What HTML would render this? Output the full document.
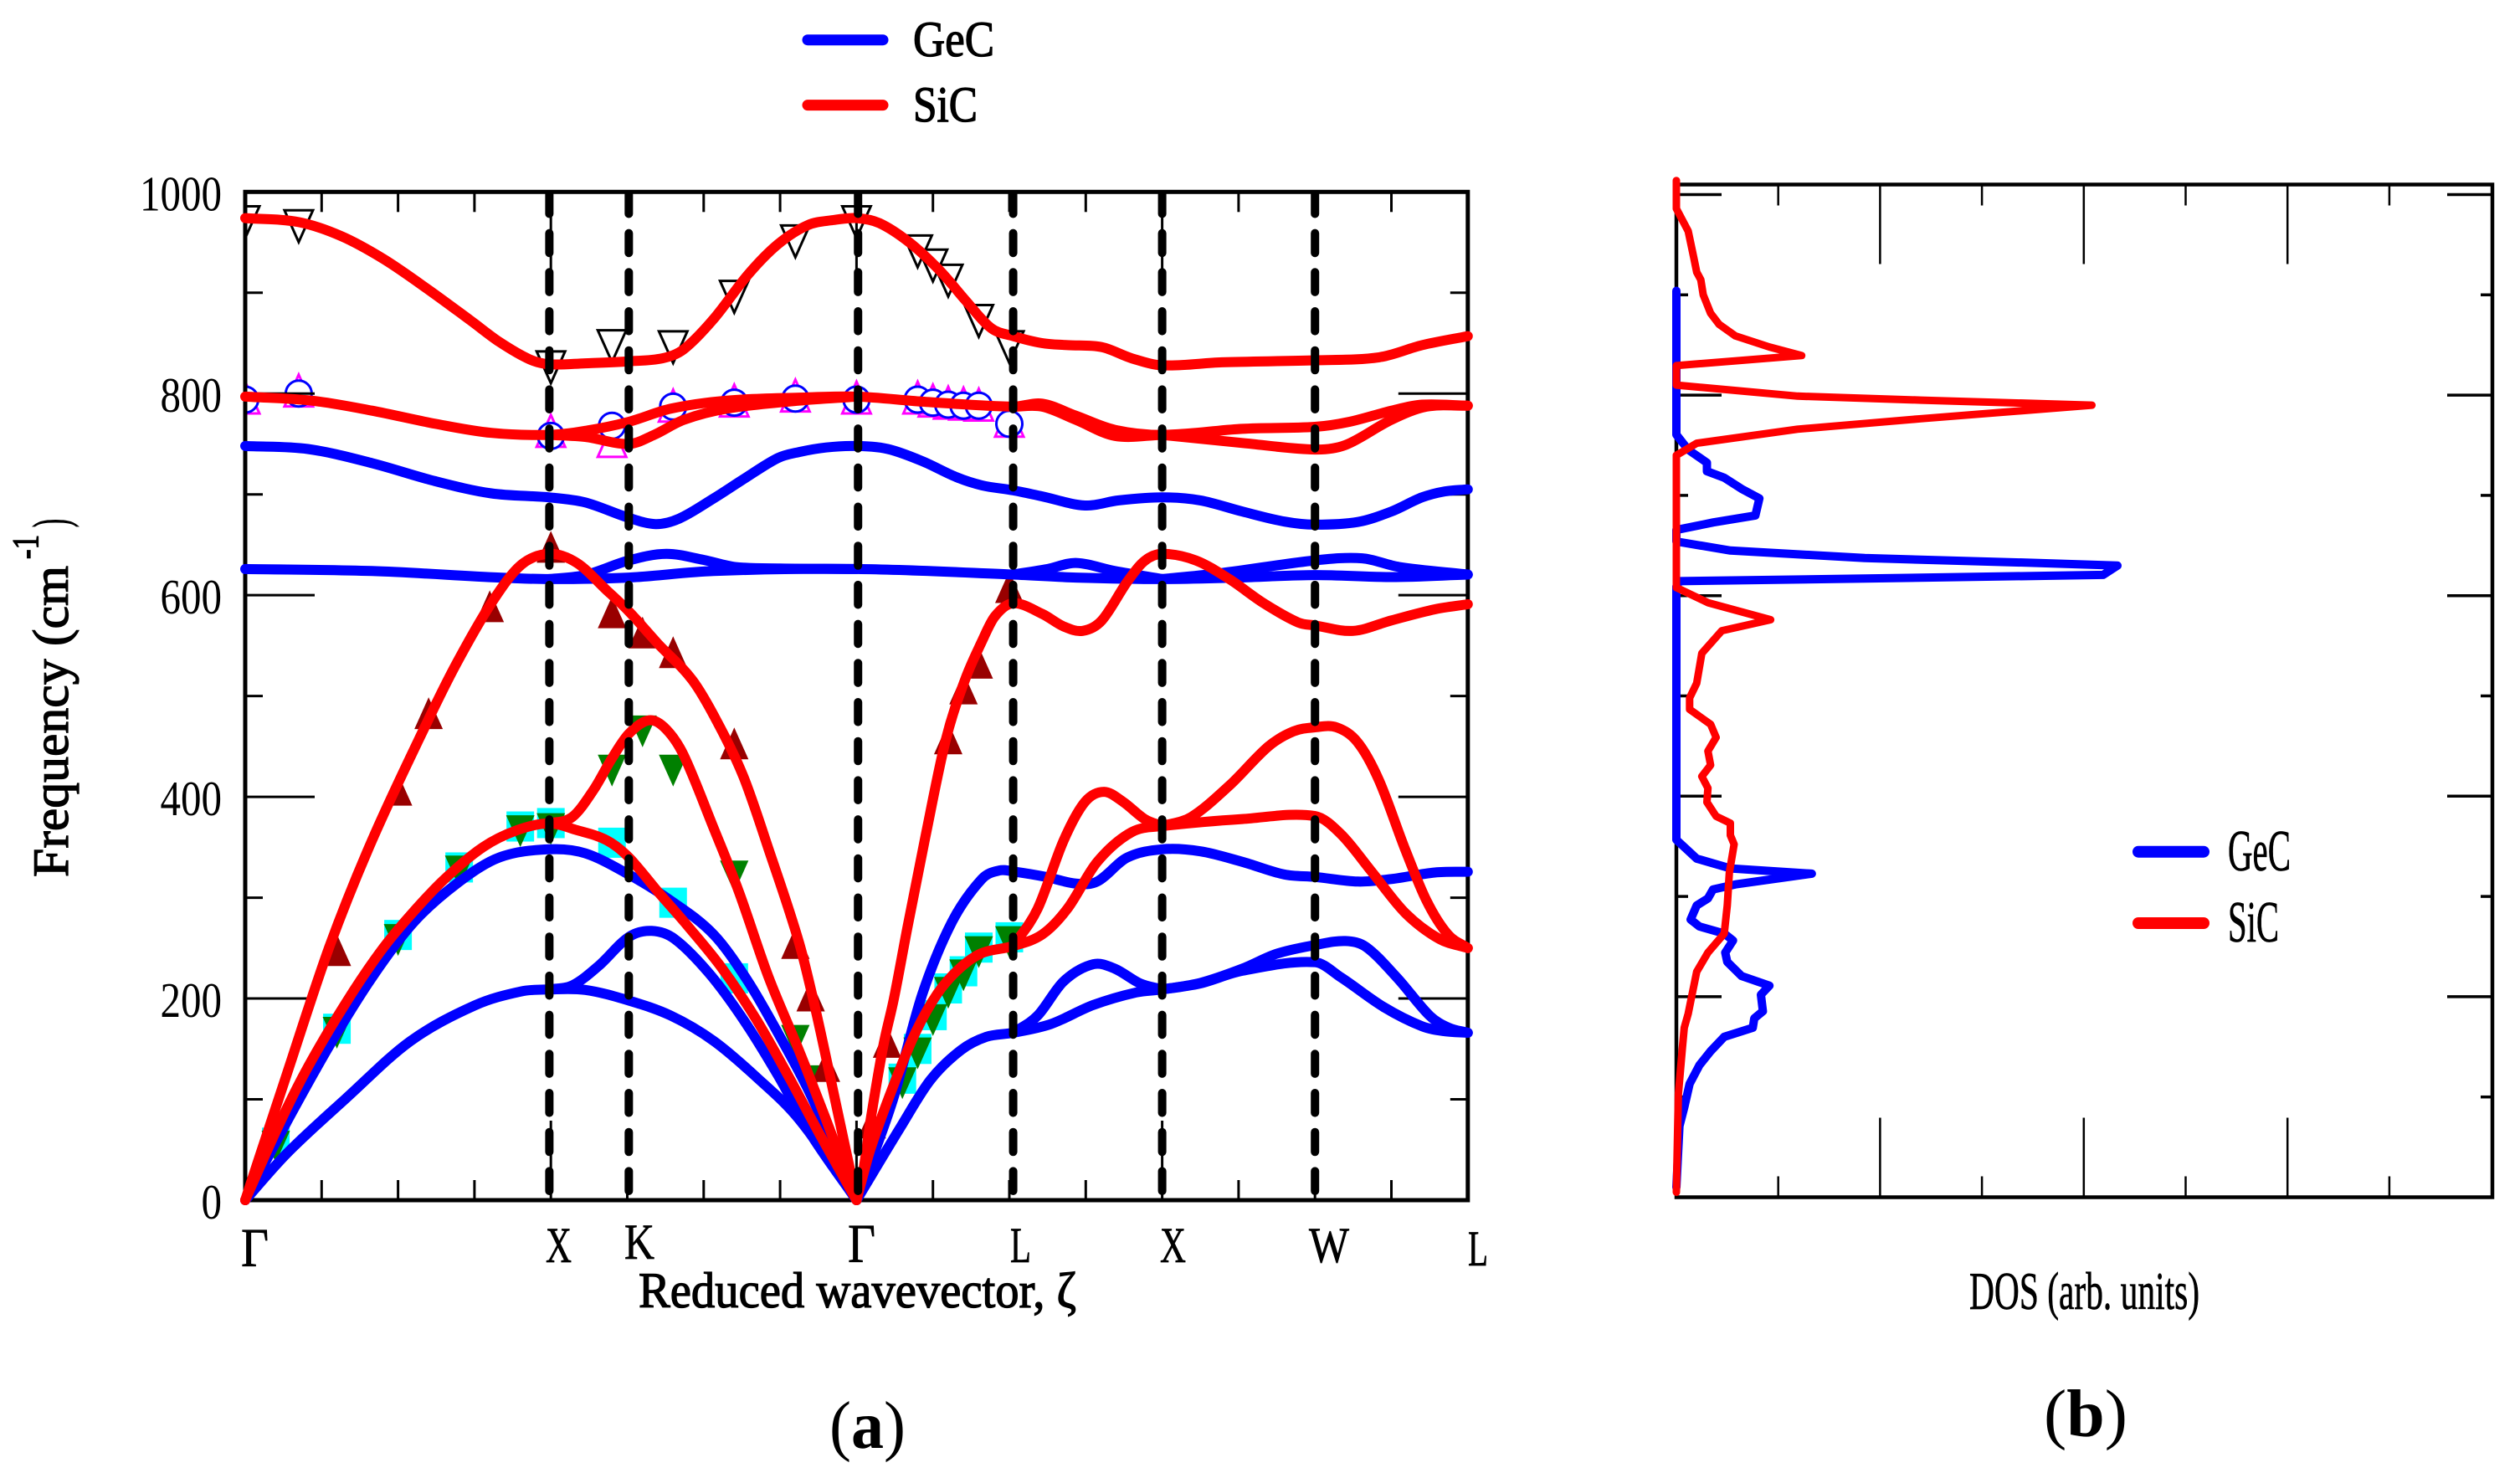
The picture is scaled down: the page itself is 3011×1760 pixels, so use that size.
<!DOCTYPE html>
<html lang="en">
<head>
<meta charset="utf-8">
<title>Phonon dispersion and DOS of GeC and SiC</title>
<style>
html,body{margin:0;padding:0;background:#fff;}
svg{display:block;}
text{font-family:"Liberation Serif","DejaVu Serif",serif;fill:#000;}
.medium{stroke:#000;stroke-width:1.3px;}
.semi{stroke:#000;stroke-width:0.7px;}
</style>
</head>
<body>
<svg id="figure" xmlns="http://www.w3.org/2000/svg" width="3011" height="1760" viewBox="0 0 3011 1760">
  <defs>
    <clipPath id="plot-clip"><rect x="293" y="229" width="1461" height="1205"/></clipPath>
  </defs>
  <rect x="0" y="0" width="3011" height="1760" fill="#fff"/>

  <g id="dispersion-panel">
    <g id="disp-markers" clip-path="url(#plot-clip)"></g>
    <g id="disp-axes"></g>
    <g id="disp-curves"></g>
    <g id="disp-bands"></g>
    <g id="disp-ticklabels"></g>
  </g>

  <g font-size="60" class="semi">
    <text x="288" y="1513" textLength="33" lengthAdjust="spacingAndGlyphs" font-size="66">Γ</text>
    <text x="652" y="1508" textLength="31" lengthAdjust="spacingAndGlyphs">X</text>
    <text x="746" y="1504" textLength="36" lengthAdjust="spacingAndGlyphs">K</text>
    <text x="1013" y="1508" textLength="33" lengthAdjust="spacingAndGlyphs" font-size="66">Γ</text>
    <text x="1207" y="1508" textLength="25" lengthAdjust="spacingAndGlyphs">L</text>
    <text x="1386" y="1508" textLength="31" lengthAdjust="spacingAndGlyphs">X</text>
    <text x="1564" y="1508" textLength="48" lengthAdjust="spacingAndGlyphs">W</text>
    <text x="1754" y="1512" textLength="24" lengthAdjust="spacingAndGlyphs">L</text>
  </g>

  <text class="medium" x="763" y="1562" font-size="60" textLength="523" lengthAdjust="spacingAndGlyphs">Reduced wavevector, ζ</text>

  <g font-size="60" class="medium">
    <text transform="translate(81,1048) rotate(-90)" textLength="372" lengthAdjust="spacingAndGlyphs">Frequency (cm</text>
    <text transform="translate(45,668) rotate(-90)" font-size="44" textLength="29" lengthAdjust="spacingAndGlyphs">-1</text>
    <text transform="translate(81,630) rotate(-90)" textLength="10" lengthAdjust="spacingAndGlyphs">)</text>
  </g>

  <g>
    <line x1="965" y1="47.7" x2="1055" y2="47.7" stroke="#0000ff" stroke-width="13" stroke-linecap="round"/>
    <text class="medium" x="1091" y="67" font-size="60" textLength="97" lengthAdjust="spacingAndGlyphs">GeC</text>
    <line x1="965" y1="125.6" x2="1055" y2="125.6" stroke="#ff0000" stroke-width="13" stroke-linecap="round"/>
    <text class="medium" x="1091" y="145" font-size="60" textLength="77" lengthAdjust="spacingAndGlyphs">SiC</text>
  </g>

  <text x="991" y="1730" font-size="80" textLength="91" lengthAdjust="spacingAndGlyphs">(<tspan font-weight="bold">a</tspan>)</text>

  <g id="dos-panel">
    <g id="dos-axes"></g>
    <g id="dos-curves"></g>
  </g>

  <g>
    <line x1="2555" y1="1017.7" x2="2633" y2="1017.7" stroke="#0000ff" stroke-width="14" stroke-linecap="round"/>
    <text class="semi" x="2662" y="1040" font-size="70" textLength="75" lengthAdjust="spacingAndGlyphs">GeC</text>
    <line x1="2555" y1="1103" x2="2633" y2="1103" stroke="#ff0000" stroke-width="14" stroke-linecap="round"/>
    <text class="semi" x="2662" y="1125" font-size="70" textLength="61" lengthAdjust="spacingAndGlyphs">SiC</text>
  </g>

  <text class="semi" x="2353" y="1564" font-size="64" textLength="275" lengthAdjust="spacingAndGlyphs">DOS (arb. units)</text>
  <text x="2442" y="1716" font-size="80" textLength="100" lengthAdjust="spacingAndGlyphs">(<tspan font-weight="bold">b</tspan>)</text>
</svg>

<script>
// ---- Axis tick values ----
const freqTicks = [0,100,200,300,400,500,600,700,800,900,1000];
const freqTickLabels = ['0','200','400','600','800','1000'];
const zetaTicks = [1,2,3,5,6,7,9,10,11,13,14,15];
const zetaMajorTicks = [4,8,12];
const bandLineZeta = [3.98,5.02,8.02,10.05,12,14];
const dosTicks = [1,2,3,4,5,6,7];

// ---- Phonon branches of GeC, [zeta, frequency in cm-1] ----
const gecOptical = [[0,748],[.82,745],[1.66,731],[2.49,713],[3.22,701],[3.98,697],[4.45,692],[5.01,677],[5.37,670.5],[5.68,676],[6.13,696],[6.52,715],[6.97,736],[7.25,742],[7.6,746.5],[8,748],[8.41,745],[8.86,733],[9.31,717],[9.64,709],[10.05,704],[10.43,698],[10.99,689],[11.43,694],[12,697],[12.5,694],[13.05,683],[13.6,673],[14,670],[14.56,672.6],[15,683],[15.4,697],[15.7,703],[16,705]];
const gec620Lower = [[0,626],[1.66,624],[3.33,617.5],[3.98,616],[5.02,617.5],[6.13,624],[8,626],[10.05,620.5],[10.87,617.5],[12,616],[13,617.5],[14,620],[15,618],[16,620.5]];
const gec620UpperXK = [[3.98,616],[4.45,620],[5.02,634.5],[5.51,641],[6,635],[6.41,628],[7,626.5],[8,626]];
const gec620UpperLX = [[10.05,620.5],[10.5,626],[10.87,632],[11.38,624],[12,616]];
const gec620UpperXW = [[12,616],[12.78,622],[14,634.5],[14.62,636.6],[15.1,628],[16,620.5]];
const gecTaUpper = [[0,0],[.54,77],[1.1,153],[1.66,221],[2.21,276],[2.77,314],[3.33,340],[3.98,348],[4.45,344],[5.02,323],[5.57,297],[6.13,263.5],[6.58,217],[6.97,166],[7.41,103],[8,0],[8.47,98],[8.86,204],[9.25,276],[9.64,318.5],[9.87,327],[10.05,326],[10.48,320.6],[10.87,314],[11.15,316],[11.54,339.7],[12,348],[12.5,346],[13.05,335.5],[13.6,323],[14,320.6],[14.56,316],[15,318.5],[15.57,325],[16,325.7]];
const gecTaLower = [[0,0],[.54,46],[1.32,101],[2.16,157.6],[3,193],[3.61,207],[3.98,209],[4.45,208.5],[5.02,198],[5.57,183],[6.13,158],[6.69,122],[7.25,80],[8,0],[8.58,73],[8.97,119.5],[9.37,149],[9.7,162],[10.05,166],[10.54,174.6],[11.1,193.6],[11.66,206],[12,209],[12.5,215],[13.05,227.5],[14,236],[14.34,221],[14.9,191.5],[15.4,172.5],[15.7,167.5],[16,166]];
const gecBumpXK = [[3.98,209],[4.28,213],[4.62,232],[5.02,261],[5.32,267],[5.62,259],[6.07,225],[6.52,179],[6.97,124],[7.41,64.5],[8,0]];
const gecBumpLX = [[10.05,166],[10.37,183],[10.71,217],[11.1,234],[11.38,229.6],[11.71,215],[12,209]];
const gecBumpXW = [[12,209],[12.5,215.5],[13.05,229.6],[13.5,244.4],[14,253],[14.4,257],[14.67,251],[15.07,221],[15.5,183],[15.75,171],[16,166]];

// ---- Phonon branches of SiC, [zeta, frequency in cm-1] ----
const sicTop = [[0,974],[.7,970],[1.26,956],[1.82,933],[2.38,904],[2.94,873],[3.33,851],[3.72,834],[3.98,829],[4.45,830],[5.02,832],[5.46,835],[5.74,844],[6.13,874],[6.58,918],[6.97,948],[7.36,967],[7.69,972],[8,974],[8.3,969],[8.69,950],[9.09,922],[9.42,893],[9.76,865],[10.05,857],[10.43,850],[10.76,848],[11.21,846],[11.6,835],[12,828],[12.78,831],[14,833],[14.84,836],[15.4,848],[16,857]];
const sic800Main = [[0,797],[.87,793],[1.66,783],[2.49,770],[3.22,761],[3.98,759],[4.45,763],[5.02,772],[5.57,785],[6.3,793],[7.25,796],[8,797],[8.86,792],[10.05,787],[10.43,790],[10.87,778],[11.38,764],[12,759],[13.05,765],[14,767],[14.45,772],[15,783],[15.4,789],[16,788]];
const sic800LowerXK = [[3.98,759],[4.45,757],[5.02,750],[5.35,759],[5.74,774],[6.3,785],[7.25,793],[8,797]];
const sic800LowerLX = [[10.05,787],[10.43,787],[10.87,774],[11.38,758],[12,759]];
const sic800LowerXW = [[12,759],[13.05,751],[14,744.5],[14.4,749],[15,774],[15.46,787],[16,788]];
const sicOpticalLow = [[0,0],[.54,124],[1.1,251],[1.66,357],[2.38,474],[2.77,533],[3.22,592],[3.61,630],[3.98,641],[4.34,632],[4.73,605],[5.02,584],[5.4,552],[5.85,516],[6.18,474],[6.52,420],[6.85,348],[7.25,255],[7.47,187],[7.69,110],[8,0],[8.09,30],[8.19,82],[8.35,153],[8.49,200],[8.67,272],[8.9,360],[9.17,457],[9.42,516],[9.64,554],[9.81,579],[10.05,592],[10.43,581.5],[10.71,569],[10.96,564.6],[11.21,575],[11.54,613],[11.77,634],[12,641],[12.44,634.5],[12.89,615.4],[13.33,592],[13.78,573],[14,570],[14.5,564.6],[15,575],[15.57,586],[16,591]];
const sicTa = [[0,0],[.43,73],[.82,132],[1.32,196],[1.77,246.5],[2.16,282.5],[2.61,318.5],[3.11,350],[3.56,367],[3.98,373.6],[4.34,367],[4.73,357],[5.02,340],[5.4,306],[5.79,272],[6.24,230],[6.69,179],[7.13,120],[7.52,65],[8,0],[8.18,50],[8.47,111],[8.77,166],[9.06,205],[9.35,230],[9.64,245],[10.05,252],[10.43,263.5],[10.76,289],[11.15,335.5],[11.6,365],[12,371],[13.05,378],[14,381],[14.34,363],[14.73,327],[15.18,285],[15.63,259],[16,250]];
const sicBumpXK = [[3.98,373.6],[4.28,380],[4.56,407],[4.79,437],[5.02,462.5],[5.29,476],[5.51,467],[5.74,441],[6.13,369],[6.46,306],[6.85,221],[7.25,148],[7.58,84],[8,0]];
const sicBumpLX = [[10.05,252],[10.37,289],[10.71,356.6],[10.99,395],[11.24,405],[11.49,395],[11.77,378],[12,371]];
const sicBumpXW = [[12,371],[12.38,380],[12.89,412],[13.39,450],[13.72,465],[14,469],[14.28,469],[14.56,454],[14.84,416],[15.18,348],[15.46,297],[15.74,263.5],[16,250]];

// ---- Experimental points, [zeta, frequency in cm-1] ----
const expBlackDown = [[0,970],[.7,966],[4,826],[4.8,847],[5.6,846],[6.4,896],[7.2,951],[8,970],[8.8,941],[9,927],[9.2,912],[9.6,872],[10,846]];
const expMagentaUp = [[0,796],[.7,803],[4,763],[4.8,753],[5.6,788],[6.4,793],[7.2,798],[8,796],[8.8,796],[9,793],[9.2,791],[9.4,790],[9.6,789],[10,773]];
const expBlueCircle = [[0,794],[.7,800],[4,758],[4.8,768],[5.6,787],[6.4,791],[7.2,795],[8,794],[8.8,794],[9,791],[9.2,789],[9.4,788],[9.6,788],[10,770]];
const expDarkRedUp = [[1.2,248],[2,407],[2.4,483],[3.2,589],[4,648],[4.8,583],[5.2,563],[5.6,543.5],[6.4,453],[7.2,255],[7.4,203],[7.6,133],[8.2,77],[8.4,157],[9.2,458],[9.4,507.5],[9.6,533],[10,608]];
const expCyanSquare = [[.4,57],[1.2,170],[2,263],[2.8,330],[3.6,370.6],[4,374],[4.8,354.5],[5.6,295],[6.4,220],[8.6,120.5],[8.8,150],[9,183.5],[9.2,210],[9.4,227],[9.6,250.5],[10,260.7]];
const expGreenDown = [[.4,53],[1.2,166],[2,258],[2.8,326],[3.6,366],[4,368],[4.8,426],[5.2,465],[5.6,426],[6.4,321],[7.2,158],[7.4,118],[8.6,116],[8.8,145.6],[9,178.6],[9.2,205.7],[9.4,223],[9.6,246],[10,256]];

// ---- Density of states, [DOS arb. units, frequency in cm-1] ----
const dosGec = [[0,904],[0,760.5],[.116,745.6],[.3,732.6],[.3,724],[.47,717.6],[.64,706.5],[.815,697],[.776,680],[.363,673],[0,665.5],[0,654],[.53,645],[1.85,637.5],[3.5,632.7],[4.33,630],[4.19,620.7],[1.85,617],[.03,614.4],[0,609],[0,356.5],[.2,337.7],[.53,328],[1.33,322.7],[.58,312],[.36,307],[.31,298],[.2,291],[.14,277],[.226,270],[.47,263],[.556,256],[.48,244],[.5,234.7],[.64,220.6],[.914,211],[.83,202],[.85,185.5],[.765,178.5],[.75,169],[.47,160],[.336,145.7],[.226,131.6],[.13,113],[.077,89.5],[.03,71],[0,10]];
const dosSic = [[0,1014],[0,986],[.116,963.6],[.17,937.5],[.2,922.6],[.24,915],[.264,900],[.336,881.6],[.42,870.5],[.58,859],[.914,848],[1.23,839.5],[0,829.5],[0,810],[1.19,799],[2.4,795],[4.08,790],[2.4,776.5],[1.19,766],[.2,752],[0,740],[0,608],[.31,593],[.925,576],[.446,565],[.25,542.5],[.2,512.7],[.13,498],[.13,486.6],[.336,471.7],[.39,458.6],[.31,445],[.336,431],[.25,419.7],[.31,408],[.3,394],[.39,380],[.53,373],[.53,361],[.567,352],[.52,323.7],[.5,291],[.47,263],[.31,244],[.2,225],[.154,202],[.116,183],[.077,169],[.06,150],[.02,103],[0,5]];

const NS = 'http://www.w3.org/2000/svg';
function byId(id){ return document.getElementById(id); }
function add(parent, tag, attrs, text){
  const el = document.createElementNS(NS, tag);
  for (const k in attrs) el.setAttribute(k, attrs[k]);
  if (text !== undefined) el.textContent = text;
  parent.appendChild(el);
  return el;
}

// ---- Axis functions ----
const xZeta = z => 293 + z * 91.3;
const yFreq = f => 1434 - f * 1.2047;
const xDos = d => 2003 + d * 121.7;
const yDos = f => 1430.5 - f * 1.198;

// ---- Dispersion axes ----
const axes = byId('disp-axes');
const frame = add(axes, 'rect', {x:293, y:yFreq(1000), width:xZeta(16)-293, height:yFreq(0)-yFreq(1000), fill:'none', stroke:'#000', 'stroke-width':5});



freqTicks.forEach(v => {
  if (v === 0 || v === 1000) return;
  const len = v % 200 === 0 ? 83 : 21;
  const left = add(axes, 'line', {x1:293, x2:293+len, y1:yFreq(v), y2:yFreq(v), stroke:'#000', 'stroke-width':3});
  
  
  const right = add(axes, 'line', {x1:xZeta(16), x2:xZeta(16)-len, y1:yFreq(v), y2:yFreq(v), stroke:'#000', 'stroke-width':3});
  
  
});
function zetaTick(z, len){
  const bottom = add(axes, 'line', {x1:xZeta(z), x2:xZeta(z), y1:yFreq(0), y2:yFreq(0)-len, stroke:'#000', 'stroke-width':3});
  
  
  const top = add(axes, 'line', {x1:xZeta(z), x2:xZeta(z), y1:yFreq(1000), y2:yFreq(1000)+len, stroke:'#000', 'stroke-width':3});
  
  
}
zetaTicks.forEach(z => zetaTick(z, 24));
zetaMajorTicks.forEach(z => zetaTick(z, 95));

// ---- Frequency tick labels ----
const labelBox = byId('disp-ticklabels');
freqTickLabels.forEach(s => {
  const w = 24.5 * s.length;
  const t = add(labelBox, 'text', {x:265-w, y:yFreq(+s)+22, 'font-size':59, textLength:w, lengthAdjust:'spacingAndGlyphs'}, s);
  
  
});

// ---- Markers ----
const markerBox = byId('disp-markers');
function triangle(p, up, fill, stroke, name){
  const x = xZeta(p[0]), y = yFreq(p[1]), w = 17, h = 19, s = up ? 1 : -1;
  const pts = [[x, y-s*h],[x-w, y+s*h],[x+w, y+s*h]].map(q => q.join(',')).join(' ');
  const el = add(markerBox, 'polygon', {points:pts, fill:fill, stroke:stroke, 'stroke-width':stroke==='none'?0:3});
  
  
}
expCyanSquare.forEach(p => {
  const el = add(markerBox, 'rect', {x:xZeta(p[0])-16.5, y:yFreq(p[1])-18, width:33, height:36, fill:'#00ffff'});
  
  
});
expGreenDown.forEach(p => triangle(p, false, '#008000', 'none', 'marker-green-triangle'));
expDarkRedUp.forEach(p => triangle(p, true, '#990000', 'none', 'marker-darkred-triangle'));
expMagentaUp.forEach(p => triangle(p, true, 'none', '#ff00ff', 'marker-magenta-triangle'));
expBlueCircle.forEach(p => {
  const el = add(markerBox, 'circle', {cx:xZeta(p[0]), cy:yFreq(p[1]), r:15.5, fill:'#fff', stroke:'#0000ff', 'stroke-width':3});
  
  
});
expBlackDown.forEach(p => triangle(p, false, 'none', '#000', 'marker-black-triangle'));

// ---- Smooth branch paths (break at the zone-centre cusps) ----
function spline(pts){
  const n = pts.length;
  if (n < 2) return '';
  const xs = pts.map(p => xZeta(p[0])), ys = pts.map(p => yFreq(p[1]));
  const m = xs.map((_, i) => {
    if (i === 0) return (ys[1]-ys[0])/(xs[1]-xs[0]);
    if (i === n-1) return (ys[n-1]-ys[n-2])/(xs[n-1]-xs[n-2]);
    return (ys[i+1]-ys[i-1])/(xs[i+1]-xs[i-1]);
  });
  let d = 'M' + xs[0].toFixed(1) + ' ' + ys[0].toFixed(1);
  for (let i = 0; i < n-1; i++) {
    const dx = (xs[i+1]-xs[i])/3;
    d += 'C' + (xs[i]+dx).toFixed(1) + ' ' + (ys[i]+m[i]*dx).toFixed(1) + ' ' +
         (xs[i+1]-dx).toFixed(1) + ' ' + (ys[i+1]-m[i+1]*dx).toFixed(1) + ' ' +
         xs[i+1].toFixed(1) + ' ' + ys[i+1].toFixed(1);
  }
  return d;
}
function branchPath(pts){
  let d = '', cur = [];
  pts.forEach((p, i) => {
    cur.push(p);
    if (p[1] === 0 && i > 0 && i < pts.length-1) { d += spline(cur); cur = [p]; }
  });
  return d + spline(cur);
}
const curveBox = byId('disp-curves');
const gecBranches = [gecTaLower, gecBumpXK, gecBumpLX, gecBumpXW, gecTaUpper, gec620UpperXK, gec620UpperLX, gec620UpperXW, gec620Lower, gecOptical];
const sicBranches = [sic800LowerXK, sic800LowerLX, sic800LowerXW, sic800Main, sicTop, sicTa, sicBumpXK, sicBumpLX, sicBumpXW, sicOpticalLow];
gecBranches.forEach(b => {
  const el = add(curveBox, 'path', {d:branchPath(b), fill:'none', stroke:'#0000ff', 'stroke-width':12, 'stroke-linecap':'round', 'stroke-linejoin':'round'});
  
  
});
sicBranches.forEach(b => {
  const el = add(curveBox, 'path', {d:branchPath(b), fill:'none', stroke:'#ff0000', 'stroke-width':12, 'stroke-linecap':'round', 'stroke-linejoin':'round'});
  
  
});

// ---- Dashed high-symmetry lines ----
const bandBox = byId('disp-bands');
bandLineZeta.forEach(z => {
  const el = add(bandBox, 'line', {x1:xZeta(z), x2:xZeta(z), y1:1423, y2:232, stroke:'#000', 'stroke-width':10, 'stroke-linecap':'round', 'stroke-dasharray':'23.6 23.1'});
  
  
});

// ---- DOS axes ----
const dosAxes = byId('dos-axes');
const dosFrame = add(dosAxes, 'rect', {x:xDos(0), y:220.5, width:975, height:1430.5-220.5, fill:'none', stroke:'#000', 'stroke-width':4.5});


freqTicks.forEach(v => {
  if (v === 0) return;
  const len = v % 200 === 0 ? 54 : 14;
  const left = add(dosAxes, 'line', {x1:xDos(0), x2:xDos(0)+len, y1:yDos(v), y2:yDos(v), stroke:'#000', 'stroke-width':3.5});
  
  
  const right = add(dosAxes, 'line', {x1:2978, x2:2978-len, y1:yDos(v), y2:yDos(v), stroke:'#000', 'stroke-width':3.5});
  
  
});
dosTicks.forEach(d => {
  const len = d % 2 === 0 ? 95 : 25;
  const top = add(dosAxes, 'line', {x1:xDos(d), x2:xDos(d), y1:220.5, y2:220.5+len, stroke:'#000', 'stroke-width':2.5});
  
  
  const bottom = add(dosAxes, 'line', {x1:xDos(d), x2:xDos(d), y1:1430.5, y2:1430.5-len, stroke:'#000', 'stroke-width':2.5});
  
  
});

// ---- DOS curves ----
const dosBox = byId('dos-curves');
const dosGecLine = add(dosBox, 'polyline', {points:dosGec.map(p => xDos(p[0]).toFixed(1)+','+yDos(p[1]).toFixed(1)).join(' '), fill:'none', stroke:'#0000ff', 'stroke-width':10, 'stroke-linejoin':'round', 'stroke-linecap':'round'});


const dosSicLine = add(dosBox, 'polyline', {points:dosSic.map(p => xDos(p[0]).toFixed(1)+','+yDos(p[1]).toFixed(1)).join(' '), fill:'none', stroke:'#ff0000', 'stroke-width':9, 'stroke-linejoin':'round', 'stroke-linecap':'round'});


</script>
</body>
</html>
